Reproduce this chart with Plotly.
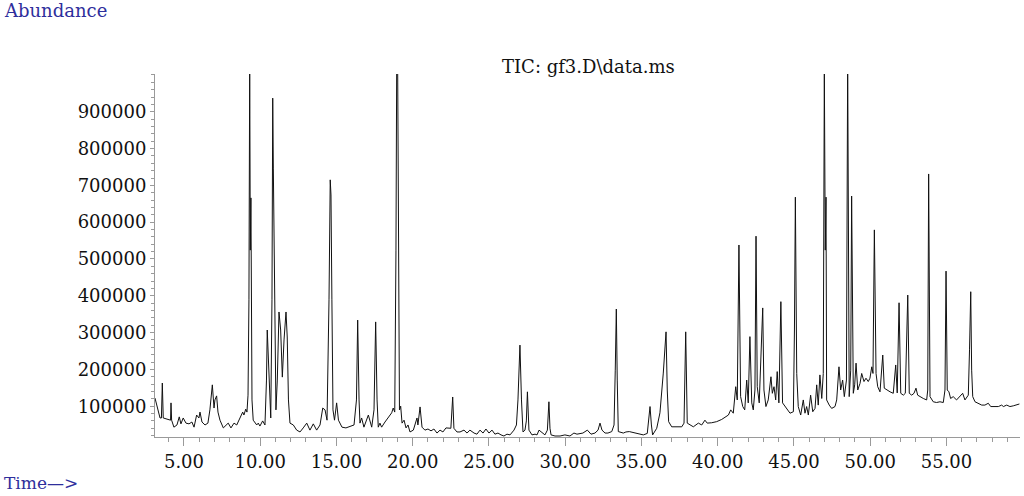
import plotly.graph_objects as go

retention_time = [
    3.10, 3.23, 3.43, 3.52, 3.58, 3.64, 3.82, 4.02, 4.12, 4.15, 4.19, 4.34, 4.54, 4.69, 4.80, 4.95,
    5.13, 5.33, 5.52, 5.66, 5.83, 5.98, 6.05, 6.18, 6.38, 6.57, 6.70, 6.86, 6.97, 7.03, 7.14, 7.23,
    7.36, 7.58, 7.75, 7.90, 8.08, 8.28, 8.46, 8.61, 8.85, 8.93, 9.05, 9.13, 9.20, 9.26, 9.31, 9.35,
    9.39, 9.46, 9.54, 9.77, 9.87, 9.98, 10.16, 10.31, 10.41, 10.46, 10.53, 10.59, 10.69, 10.77, 10.82, 10.86,
    10.93, 10.98, 11.03, 11.12, 11.23, 11.34, 11.45, 11.56, 11.69, 11.77, 11.85, 11.95, 12.17, 12.39, 12.61, 12.82,
    13.05, 13.26, 13.48, 13.70, 13.92, 14.10, 14.25, 14.38, 14.51, 14.59, 14.64, 14.70, 14.77, 14.87, 15.01, 15.13,
    15.36, 15.62, 15.89, 16.15, 16.31, 16.39, 16.48, 16.54, 16.65, 16.80, 17.09, 17.31, 17.46, 17.57, 17.66, 17.74,
    17.85, 17.96, 18.18, 18.40, 18.62, 18.72, 18.82, 18.90, 18.95, 19.01, 19.08, 19.13, 19.21, 19.30, 19.43, 19.56,
    19.69, 19.82, 20.04, 20.28, 20.34, 20.48, 20.61, 20.80, 21.00, 21.20, 21.39, 21.59, 21.79, 21.98, 22.18, 22.50,
    22.62, 22.70, 22.90, 23.10, 23.36, 23.56, 23.75, 24.02, 24.21, 24.41, 24.61, 24.80, 25.00, 25.20, 25.39, 25.59,
    25.79, 25.98, 26.18, 26.38, 26.64, 26.80, 26.90, 27.03, 27.13, 27.23, 27.36, 27.45, 27.52, 27.58, 27.62, 27.82,
    28.02, 28.15, 28.28, 28.67, 28.83, 28.93, 29.00, 29.07, 29.33, 29.66, 29.98, 30.31, 30.57, 30.77, 31.16, 31.45,
    31.69, 31.95, 32.15, 32.28, 32.41, 32.61, 32.80, 33.05, 33.20, 33.28, 33.35, 33.41, 33.48, 33.81, 33.98, 34.20,
    34.46, 34.79, 35.12, 35.38, 35.47, 35.56, 35.65, 35.73, 36.00, 36.21, 36.43, 36.61, 36.69, 36.78, 36.98, 37.31,
    37.64, 37.79, 37.90, 38.00, 38.18, 38.40, 38.73, 38.95, 39.16, 39.31, 39.60, 39.93, 40.26, 40.48, 40.70, 40.85,
    41.02, 41.18, 41.28, 41.39, 41.50, 41.64, 41.77, 41.90, 42.00, 42.11, 42.23, 42.33, 42.44, 42.51, 42.59, 42.72,
    42.81, 42.95, 43.03, 43.16, 43.31, 43.49, 43.58, 43.69, 43.80, 43.90, 44.01, 44.14, 44.25, 44.41, 44.63, 44.74,
    44.96, 45.03, 45.09, 45.18, 45.28, 45.44, 45.61, 45.72, 45.83, 45.94, 46.09, 46.23, 46.38, 46.49, 46.59, 46.70,
    46.82, 46.92, 46.99, 47.05, 47.10, 47.14, 47.31, 47.47, 47.69, 47.80, 47.95, 48.06, 48.19, 48.30, 48.44, 48.52,
    48.62, 48.72, 48.78, 48.89, 48.98, 49.07, 49.18, 49.33, 49.44, 49.59, 49.72, 49.87, 49.98, 50.10, 50.18, 50.27,
    50.38, 50.49, 50.64, 50.82, 50.92, 51.08, 51.30, 51.51, 51.67, 51.77, 51.89, 52.00, 52.17, 52.30, 52.46, 52.56,
    52.72, 52.87, 53.00, 53.11, 53.26, 53.48, 53.70, 53.77, 53.83, 53.92, 54.13, 54.35, 54.57, 54.79, 54.90, 54.97,
    55.05, 55.16, 55.27, 55.44, 55.66, 55.88, 56.06, 56.21, 56.43, 56.51, 56.59, 56.65, 56.72, 56.87, 57.09, 57.31,
    57.52, 57.74, 57.90, 58.18, 58.40, 58.62, 58.73, 58.95, 59.16, 59.38, 59.60, 59.78,
]

abundance = [
    122000, 103000, 68000, 68000, 163000, 68000, 65000, 62000, 62000, 109000, 62000, 43000, 49000, 71000, 52000, 68000,
    54000, 52000, 57000, 43000, 76000, 68000, 84000, 57000, 49000, 54000, 90000, 158000, 95000, 117000, 128000, 84000,
    62000, 41000, 49000, 54000, 41000, 54000, 49000, 62000, 84000, 76000, 92000, 84000, 130000, 389000, 1040000, 524000,
    666000, 117000, 62000, 49000, 54000, 46000, 60000, 49000, 171000, 307000, 245000, 185000, 68000, 389000, 937000, 747000,
    389000, 171000, 90000, 171000, 356000, 307000, 179000, 280000, 356000, 288000, 117000, 54000, 49000, 35000, 30000, 41000,
    54000, 35000, 52000, 35000, 49000, 95000, 90000, 62000, 389000, 715000, 674000, 389000, 90000, 62000, 109000, 62000,
    43000, 41000, 46000, 49000, 117000, 334000, 117000, 54000, 68000, 43000, 76000, 43000, 90000, 329000, 117000, 43000,
    54000, 43000, 57000, 68000, 82000, 95000, 84000, 524000, 1040000, 1040000, 389000, 90000, 100000, 54000, 62000, 41000,
    49000, 30000, 35000, 68000, 49000, 98000, 43000, 35000, 38000, 33000, 38000, 27000, 35000, 30000, 41000, 40000,
    125000, 40000, 30000, 30000, 35000, 27000, 35000, 27000, 24000, 35000, 27000, 38000, 27000, 35000, 24000, 27000,
    22000, 19000, 24000, 22000, 35000, 49000, 117000, 266000, 117000, 30000, 35000, 60000, 139000, 60000, 35000, 22000,
    24000, 22000, 35000, 22000, 35000, 112000, 40000, 22000, 19000, 19000, 22000, 19000, 27000, 24000, 27000, 35000,
    24000, 27000, 35000, 54000, 35000, 27000, 27000, 31000, 49000, 198000, 364000, 171000, 31000, 27000, 30000, 31000,
    28000, 26000, 22000, 26000, 62000, 99000, 49000, 22000, 40000, 82000, 190000, 302000, 144000, 58000, 44000, 43000,
    44000, 54000, 302000, 54000, 49000, 44000, 54000, 49000, 62000, 54000, 55000, 58000, 64000, 71000, 76000, 90000,
    81000, 153000, 117000, 538000, 126000, 99000, 90000, 171000, 109000, 289000, 109000, 90000, 144000, 562000, 153000, 109000,
    194000, 367000, 144000, 99000, 117000, 180000, 135000, 153000, 117000, 194000, 109000, 384000, 109000, 99000, 85000, 81000,
    85000, 307000, 668000, 189000, 99000, 76000, 117000, 81000, 99000, 76000, 130000, 85000, 94000, 158000, 103000, 185000,
    121000, 189000, 1015000, 524000, 668000, 117000, 103000, 94000, 99000, 117000, 207000, 144000, 171000, 126000, 171000, 1040000,
    126000, 198000, 671000, 135000, 158000, 217000, 144000, 162000, 189000, 167000, 176000, 167000, 176000, 207000, 189000, 579000,
    189000, 153000, 139000, 239000, 149000, 144000, 139000, 135000, 212000, 136000, 381000, 135000, 130000, 135000, 402000, 135000,
    130000, 135000, 149000, 130000, 126000, 121000, 117000, 144000, 731000, 126000, 112000, 110000, 112000, 110000, 144000, 467000,
    144000, 139000, 121000, 126000, 117000, 126000, 135000, 117000, 130000, 253000, 411000, 198000, 126000, 112000, 108000, 103000,
    103000, 108000, 99000, 99000, 99000, 103000, 99000, 103000, 99000, 101000, 103000, 106000,
]

x_tick_values = [5, 10, 15, 20, 25, 30, 35, 40, 45, 50, 55]
y_tick_values = [100000, 200000, 300000, 400000, 500000, 600000, 700000, 800000, 900000]

axis_grey = "#9a9a9a"
label_blue = "#2e2e9c"
serif = "DejaVu Serif"

fig = go.Figure()
fig.add_trace(go.Scatter(
    x=retention_time, y=abundance, mode="lines",
    line=dict(color="#111111", width=1),
    hoverinfo="skip", showlegend=False,
))

fig.update_layout(
    width=1024, height=496,
    margin=dict(l=155, r=4, t=74, b=59),
    paper_bgcolor="white", plot_bgcolor="white",
    showlegend=False,
    xaxis=dict(
        range=[3.10, 59.82], showgrid=False, zeroline=False, automargin=False,
        showline=True, linecolor=axis_grey, linewidth=1,
        tickmode="array", tickvals=x_tick_values, tickformat=".2f",
        ticks="outside", ticklen=8, tickcolor=axis_grey, tickwidth=1,
        minor=dict(dtick=1, ticks="outside", ticklen=4, tickcolor=axis_grey, tickwidth=1, showgrid=False),
        tickfont=dict(family=serif, size=18, color="#111111"),
    ),
    yaxis=dict(
        range=[16300, 1002600], showgrid=False, zeroline=False, automargin=False,
        showline=True, linecolor=axis_grey, linewidth=1,
        tickmode="array", tickvals=y_tick_values, tickformat="d",
        ticks="outside", ticklen=4, tickcolor=axis_grey, tickwidth=1,
        minor=dict(dtick=20000, tick0=0, ticks="outside", ticklen=3, tickcolor=axis_grey, tickwidth=1, showgrid=False),
        tickfont=dict(family=serif, size=18, color="#111111"),
    ),
    annotations=[
        dict(text="Abundance", xref="paper", yref="paper", x=-0.1769, y=1.1763,
             xanchor="left", yanchor="middle", showarrow=False,
             font=dict(family=serif, size=18, color=label_blue)),
        dict(text="Time\u2014>", xref="paper", yref="paper", x=-0.1769, y=-0.1267,
             xanchor="left", yanchor="middle", showarrow=False,
             font=dict(family=serif, size=17, color=label_blue)),
        dict(text="TIC: gf3.D\\data.ms", xref="paper", yref="paper", x=0.5006, y=1.022,
             xanchor="center", yanchor="middle", showarrow=False,
             font=dict(family=serif, size=18, color="#111111")),
    ],
)

fig.write_html("out.html", config={"displayModeBar": False, "staticPlot": True},
               post_script="document.body.style.margin='0';")
